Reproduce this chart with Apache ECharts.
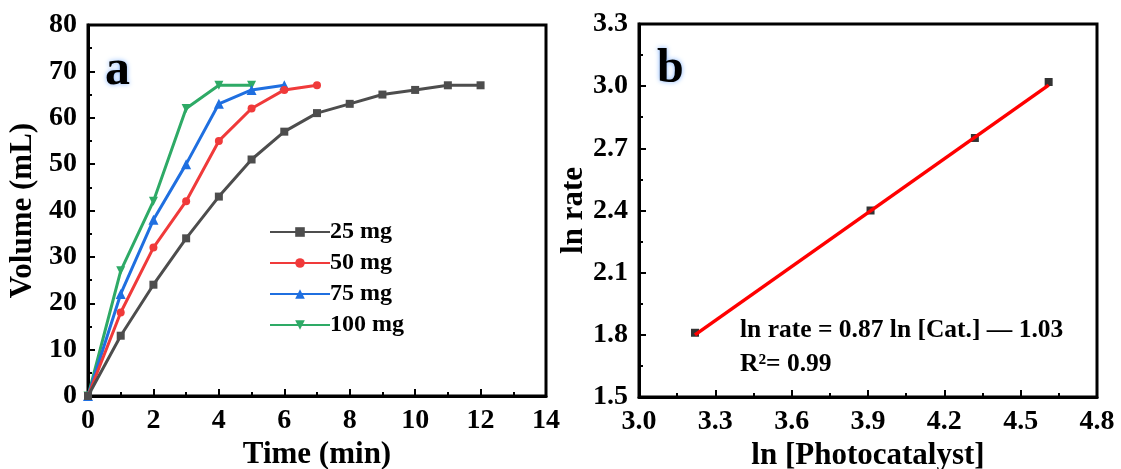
<!DOCTYPE html>
<html><head><meta charset="utf-8">
<script src="https://cdn.jsdelivr.net/npm/echarts@6/dist/echarts.min.js"></script>
<style>html,body{margin:0;padding:0;background:#fff}#c{width:1121px;height:469px}</style>
</head><body><div id="c"></div>
<script>
// Panel a data
const time25 = [0,1,2,3,4,5,6,7,8,9,10,11,12];
const vol25  = [0,13,24,34,43,51,57,61,63,65,66,67,67];
const time50 = [0,1,2,3,4,5,6,7];
const vol50  = [0,18,32,42,55,62,66,67];
const time75 = [0,1,2,3,4,5,6];
const vol75  = [0,22,38,50,63,66,67];
const time100 = [0,1,2,3,4,5];
const vol100  = [0,27,42,62,67,67];
const seriesNames = ['25 mg','50 mg','75 mg','100 mg'];
// Panel b data
const lnCat  = [3.22, 3.91, 4.32, 4.61];
const lnRate = [1.81, 2.40, 2.75, 3.02];
const fitX = [3.22, 4.61];
const fitY = [1.80, 3.005];

const FONT = '"Liberation Serif","Times New Roman",serif';
const zip = (a,b) => a.map((v,i)=>[v,b[i]]);

const chart = echarts.init(document.getElementById('c'));
const axisCommon = {
  axisLine:{show:true,onZero:false,lineStyle:{color:'#000',width:3}},
  axisTick:{show:true,inside:true,length:7,lineStyle:{color:'#000',width:2}},
  minorTick:{show:true,splitNumber:2,length:4,lineStyle:{color:'#000',width:2}},
  splitLine:{show:false},
  axisLabel:{color:'#000',fontFamily:FONT,fontWeight:'bold',fontSize:28,margin:11},
  nameTextStyle:{color:'#000',fontFamily:FONT,fontWeight:'bold',fontSize:31}
};
const colors = ['#4d4d4d','#f03a3a','#1f6fe0','#2eaa66'];
const symbols = ['rect','circle','triangle','path://M0,0 L10,0 L5,10 Z'];
const dataSets = [zip(time25,vol25),zip(time50,vol50),zip(time75,vol75),zip(time100,vol100)];

const option = {
  animation:false,
  grid:[
    {left:88,right:575,top:25,bottom:73,outerBoundsMode:'none',containLabel:false,show:true,borderColor:'#000',borderWidth:3,backgroundColor:'transparent'},
    {left:639,right:24,top:24,bottom:72,outerBoundsMode:'none',containLabel:false,show:true,borderColor:'#000',borderWidth:3,backgroundColor:'transparent'}
  ],
  xAxis:[
    Object.assign({},axisCommon,{type:'value',gridIndex:0,min:0,max:14,interval:2,name:'Time (min)',nameLocation:'middle',nameGap:38}),
    Object.assign({},axisCommon,{type:'value',gridIndex:1,min:3.0,max:4.8,interval:0.3,name:'ln [Photocatalyst]',nameLocation:'middle',nameGap:38,
      axisLabel:Object.assign({},axisCommon.axisLabel,{formatter:v=>v.toFixed(1)})})
  ],
  yAxis:[
    Object.assign({},axisCommon,{type:'value',gridIndex:0,min:0,max:80,interval:10,name:'Volume (mL)',nameLocation:'middle',nameGap:50}),
    Object.assign({},axisCommon,{type:'value',gridIndex:1,min:1.5,max:3.3,interval:0.3,name:'ln rate',nameLocation:'middle',nameGap:50,
      axisLabel:Object.assign({},axisCommon.axisLabel,{formatter:v=>v.toFixed(1)})})
  ],
  legend:{
    data:seriesNames,orient:'vertical',left:264,top:215,itemWidth:60,itemHeight:12,itemGap:7,
    textStyle:{color:'#000',fontFamily:FONT,fontWeight:'bold',fontSize:24,padding:[0,0,0,-5]}
  },
  series: seriesNames.map((n,i)=>({
    name:n,type:'line',xAxisIndex:0,yAxisIndex:0,data:dataSets[i],
    symbol:symbols[i],symbolSize:i===3?9:(i===2?10:8),
    lineStyle:{color:colors[i],width:3},itemStyle:{color:colors[i]},z:10-i
  })).concat([
    {type:'line',xAxisIndex:1,yAxisIndex:1,data:zip(fitX,fitY),symbol:'none',lineStyle:{color:'#ff0000',width:3.5},z:5},
    {type:'scatter',xAxisIndex:1,yAxisIndex:1,data:zip(lnCat,lnRate),symbol:'rect',symbolSize:8,itemStyle:{color:'#000'},z:4}
  ]),
  graphic:[
    {type:'text',left:105,top:46,style:{text:'a',font:'bold 50px '+FONT,fill:'#000',textShadowColor:'#7fb2ff',textShadowBlur:5}},
    {type:'text',left:657,top:46,style:{text:'b',font:'bold 48px '+FONT,fill:'#000',textShadowColor:'#7fb2ff',textShadowBlur:5}},
    {type:'text',left:740,top:317,style:{text:'ln rate = 0.87 ln [Cat.] \u2014 1.03',font:'bold 25.5px '+FONT,fill:'#000'}},
    {type:'text',left:740,top:351,style:{text:'R\u00b2= 0.99',font:'bold 25.5px '+FONT,fill:'#000'}}
  ]
};
chart.setOption(option);
</script></body></html>
